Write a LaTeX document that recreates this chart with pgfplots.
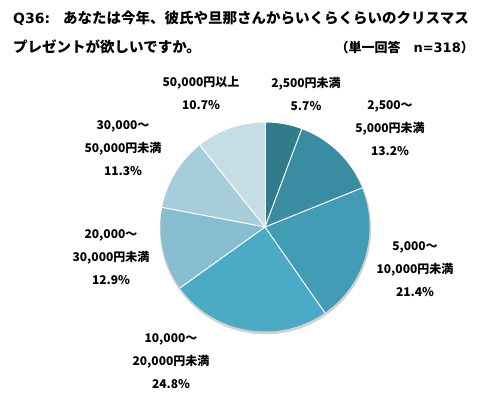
\documentclass[border=0pt]{standalone}
\usepackage{pgfplots}
\pgfplotsset{compat=1.18}
\usepackage{fontspec}
\setmainfont{Noto Sans CJK JP}
\newfontfamily\lat{DejaVu Sans}
\definecolor{c1}{HTML}{317B8B}
\definecolor{c2}{HTML}{3A8CA3}
\definecolor{c3}{HTML}{439CB6}
\definecolor{c4}{HTML}{4BABC6}
\definecolor{c5}{HTML}{87BECF}
\definecolor{c6}{HTML}{A8CDDA}
\definecolor{c7}{HTML}{C5DEE6}
\tikzset{lab/.style={font=\fontsize{12bp}{23bp}\selectfont\bfseries,align=center,inner sep=0pt,text=black}}
% shares (%)
\def\vA{5.7}\def\vB{13.2}\def\vC{21.4}\def\vD{24.8}\def\vE{12.9}\def\vF{11.3}\def\vG{10.7}
\pgfmathsetmacro\aA{90}
\pgfmathsetmacro\aB{\aA-3.6*\vA}
\pgfmathsetmacro\aC{\aB-3.6*\vB}
\pgfmathsetmacro\aD{\aC-3.6*\vC}
\pgfmathsetmacro\aE{\aD-3.6*\vD}
\pgfmathsetmacro\aF{\aE-3.6*\vE}
\pgfmathsetmacro\aG{\aF-3.6*\vF}
\pgfmathsetmacro\aH{\aG-3.6*\vG}
\def\R{104.5bp}
\newcommand\slice[3]{\fill[#1] (axis cs:265,170) -- ++(#2:\R) arc[start angle=#2,end angle=#3,radius=\R] -- cycle;}
\newcommand\sep[1]{\draw[white,line width=1bp] (axis cs:265,170) -- ++(#1:\R);}
\begin{document}
\begin{tikzpicture}
\begin{axis}[width=502bp,height=397bp,scale only axis,xmin=0,xmax=502,ymin=0,ymax=397,
  axis lines=none,clip=false]
\path (axis cs:0,0) rectangle (axis cs:502,397);
\fill[black!18] (axis cs:265.5,168.3) circle[radius=105.6bp];
\slice{c1}{\aA}{\aB}
\slice{c2}{\aB}{\aC}
\slice{c3}{\aC}{\aD}
\slice{c4}{\aD}{\aE}
\slice{c5}{\aE}{\aF}
\slice{c6}{\aF}{\aG}
\slice{c7}{\aG}{\aH}
\sep{\aA}\sep{\aB}\sep{\aC}\sep{\aD}\sep{\aE}\sep{\aF}\sep{\aG}
% title
\node[anchor=base west,inner sep=0pt,font=\lat\bfseries\fontsize{14bp}{16bp}\selectfont] at (axis cs:13,373) {Q36:};
\node[anchor=base west,inner sep=0pt,font=\bfseries\fontsize{14.5bp}{16bp}\selectfont] at (axis cs:63,373) {あなたは今年、彼氏や旦那さんからいくらくらいのクリスマス};
\node[anchor=base west,inner sep=0pt,font=\bfseries\fontsize{14.5bp}{16bp}\selectfont] at (axis cs:13,344) {プレゼントが欲しいですか。};
\node[anchor=base east,inner sep=0pt,font=\bfseries\fontsize{13bp}{16bp}\selectfont] at (axis cs:474,344) {（単一回答　{\lat n=318}）};
% labels
\node[lab] at (axis cs:306,303.5) {2,500円未満\\5.7\%};
\node[lab] at (axis cs:390,269) {2,500～\\5,000円未満\\13.2\%};
\node[lab] at (axis cs:415,128) {5,000～\\10,000円未満\\21.4\%};
\node[lab] at (axis cs:171,36) {10,000～\\20,000円未満\\24.8\%};
\node[lab] at (axis cs:111,140) {20,000～\\30,000円未満\\12.9\%};
\node[lab] at (axis cs:123,249) {30,000～\\50,000円未満\\11.3\%};
\node[lab] at (axis cs:201,303.5) {50,000円以上\\10.7\%};
\end{axis}
\end{tikzpicture}
\end{document}
